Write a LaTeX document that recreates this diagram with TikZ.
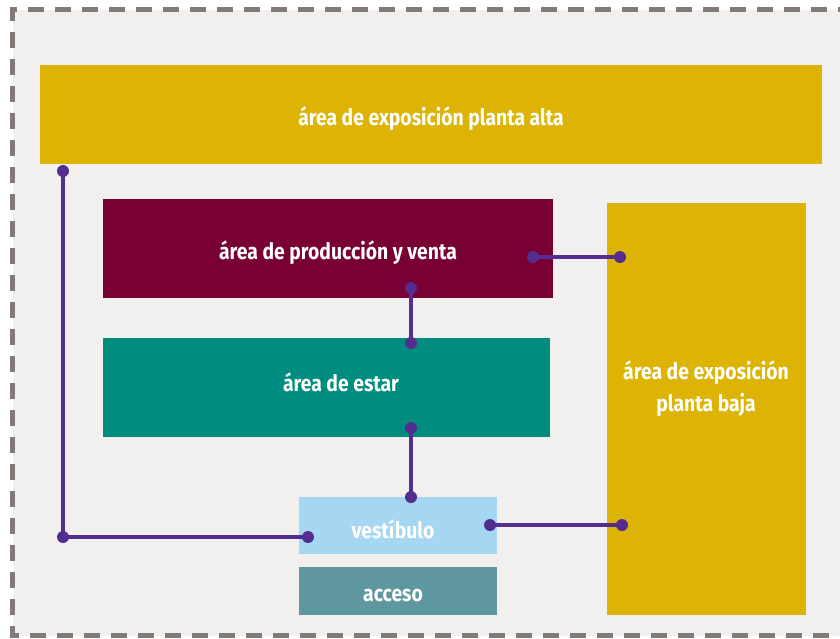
\documentclass[tikz,border=0pt]{standalone}
\usepackage{fontspec}
\setmainfont{Fira Sans}[FakeStretch=0.86]
\definecolor{bggray}{HTML}{F1F0EF}
\definecolor{dashgray}{HTML}{817A76}
\definecolor{mustard}{HTML}{DDB405}
\definecolor{maroon}{HTML}{780032}
\definecolor{teal}{HTML}{008C7E}
\definecolor{lightblue}{HTML}{A5D7F3}
\definecolor{slateteal}{HTML}{5F97A0}
\definecolor{linkpurple}{HTML}{532D8F}
\tikzset{
  zone/.style={fill=#1, draw=none, inner sep=0pt, anchor=north west},
  label/.style={text=white, font=\bfseries\fontsize{22.5}{32}\selectfont, align=center, inner sep=0pt},
  link/.style={draw=linkpurple, line width=4pt},
  dot/.style={circle, fill=linkpurple, inner sep=0pt, minimum size=12pt},
}
\begin{document}
\begin{tikzpicture}[x=1pt,y=-1pt]
\useasboundingbox (0,0) rectangle (840,638);
\fill[white] (0,0) rectangle (840,638);
\begin{scope}
\clip (0,0) rectangle (840,638);
\fill[bggray] (12.5,9.5) rectangle (900,635.5);
\draw[dashgray, line width=5pt, dash pattern=on 16pt off 11pt, dash phase=8pt]
  (900,9.5) -- (12.5,9.5) -- (12.5,635.5) -- (900,635.5);
\end{scope}
% boxes
\node[zone=mustard, minimum width=782pt, minimum height=99pt] (alta) at (40,65) {};
\node[label] (altatxt) at (431,119) {área de exposición planta alta};
\node[zone=mustard, minimum width=199pt, minimum height=412pt] (baja) at (607,203) {};
\node[label] (bajatxt) at (706,389) {área de exposición\\planta baja};
\node[zone=maroon, minimum width=450pt, minimum height=99pt] (prod) at (103,199) {};
\node[label] (prodtxt) at (338,253) {área de producción y venta};
\node[zone=teal, minimum width=447pt, minimum height=99pt] (estar) at (103,338) {};
\node[label] (estartxt) at (341,382) {área de estar};
\node[zone=lightblue, minimum width=198pt, minimum height=57pt] (vest) at (299,497) {};
\node[label] (vesttxt) at (393,529) {vestíbulo};
\node[zone=slateteal, minimum width=198pt, minimum height=48pt] (acceso) at (299,567) {};
\node[label] (accesotxt) at (393,596) {acceso};
% connector points
\node[dot] (a1) at (63,171) {};
\node[dot] (a2) at (63,537) {};
\node[dot] (a3) at (308,537) {};
\node[dot] (b1) at (533,257) {};
\node[dot] (b2) at (620,257) {};
\node[dot] (c1) at (411,288) {};
\node[dot] (c2) at (411,343) {};
\node[dot] (d1) at (411,428) {};
\node[dot] (d2) at (411,497) {};
\node[dot] (e1) at (490,525) {};
\node[dot] (e2) at (622,525) {};
\draw[link] (a1.center) -- (a2.center) -- (a3.center);
\draw[link] (b1.center) -- (b2.center);
\draw[link] (c1.center) -- (c2.center);
\draw[link] (d1.center) -- (d2.center);
\draw[link] (e1.center) -- (e2.center);
\end{tikzpicture}
\end{document}
